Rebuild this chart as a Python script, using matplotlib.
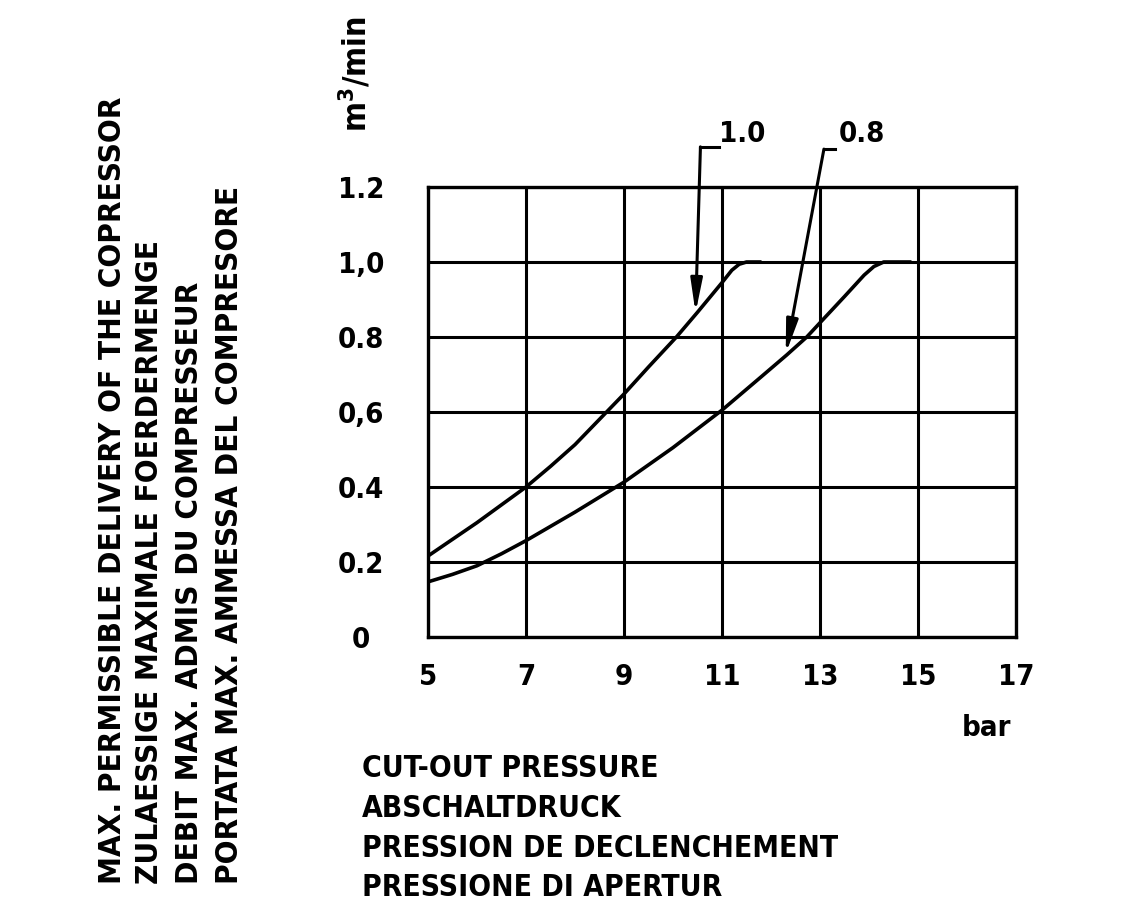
import matplotlib
matplotlib.use("Agg")
import matplotlib.pyplot as plt

# delivery curves (bar -> m3/min)
p10_x = [5, 6, 7, 7.5, 8, 8.6, 9, 9.5, 10.07, 10.5, 11, 11.2, 11.35, 11.5, 11.77]
p10_y = [0.216, 0.305, 0.40, 0.455, 0.513, 0.594, 0.648, 0.72, 0.80, 0.866, 0.945, 0.978, 0.994, 1.0, 1.0]

p08_x = [5, 5.5, 6, 6.5, 7, 8, 9, 10, 11, 11.81, 12.32, 12.73, 13, 13.5, 13.9, 14.1, 14.3, 14.83]
p08_y = [0.147, 0.167, 0.19, 0.222, 0.257, 0.333, 0.413, 0.505, 0.605, 0.695, 0.752, 0.80, 0.838, 0.908, 0.965, 0.988, 1.0, 1.0]

x_ticks = [5, 7, 9, 11, 13, 15, 17]
y_ticks = [0, 0.2, 0.4, 0.6, 0.8, 1.0, 1.2]
y_ticklabels = ["0", "0.2", "0.4", "0,6", "0.8", "1,0", "1.2"]

ylabel_lines = ["MAX. PERMISSIBLE DELIVERY OF THE COPRESSOR",
                "ZULAESSIGE MAXIMALE FOERDERMENGE",
                "DEBIT MAX. ADMIS DU COMPRESSEUR",
                "PORTATA MAX. AMMESSA DEL COMPRESORE"]
xlabel_lines = ["CUT-OUT PRESSURE",
                "ABSCHALTDRUCK",
                "PRESSION DE DECLENCHEMENT",
                "PRESSIONE DI APERTUR"]

plt.rcParams['font.family'] = ['DejaVu Sans']
plt.rcParams['font.stretch'] = 'condensed'
plt.rcParams['font.weight'] = 'bold'
fs = 21

W, H = 1125, 922
fig = plt.figure(figsize=(W / 100, H / 100), dpi=100)
ax = fig.add_axes([428 / W, 1 - 637 / H, 588 / W, 450 / H])

ax.plot(p10_x, p10_y, color='k', lw=2.6, solid_joinstyle='round')
ax.plot(p08_x, p08_y, color='k', lw=2.6, solid_joinstyle='round')

ax.set_xlim(5, 17)
ax.set_ylim(0, 1.2)
ax.set_xticks(x_ticks)
ax.set_yticks(y_ticks)
ax.set_yticklabels(y_ticklabels)
ax.grid(True, color='k', lw=2.2)
ax.set_axisbelow(True)
for s in ax.spines.values():
    s.set_linewidth(2.4)
ax.tick_params(length=0, labelsize=fs)
ax.tick_params(axis='x', pad=19)
ax.tick_params(axis='y', pad=48)
for lab in ax.get_yticklabels():
    lab.set_ha('center')

# leader lines with arrows
arrow = dict(arrowstyle='-|>,head_length=2.0,head_width=0.35',
             color='k', lw=2.2, shrinkA=0, shrinkB=0)
ax.plot([10.56, 10.93], [1.307, 1.307], color='k', lw=2.2, clip_on=False)
ax.annotate("", xy=(10.46, 0.864), xytext=(10.56, 1.307), annotation_clip=False,
            arrowprops=arrow)
ax.text(11.42, 1.32, "1.0", ha='center', va='baseline', fontsize=fs)

ax.plot([13.08, 13.31], [1.301, 1.301], color='k', lw=2.2, clip_on=False)
ax.annotate("", xy=(12.30, 0.755), xytext=(13.08, 1.301), annotation_clip=False,
            arrowprops=arrow)
ax.text(13.86, 1.32, "0.8", ha='center', va='baseline', fontsize=fs)

# unit labels
fig.text(356 / W, 1 - 132 / H, "m$^3$/min", rotation=90, ha='center', va='bottom', fontsize=23)
fig.text(986 / W, 1 - 728 / H, "bar", ha='center', va='center', fontsize=fs)

# y axis description, rotated lines
for xc, line in zip([113, 150, 190, 230], ylabel_lines):
    fig.text(xc / W, 1 - 884 / H, line, rotation=90, ha='center', va='bottom', fontsize=22.5)

# x axis description
for yb, line in zip([777, 817, 857, 896], xlabel_lines):
    fig.text(362 / W, 1 - yb / H, line, ha='left', va='baseline', fontsize=21.5)

fig.savefig("out.png", dpi=100, facecolor='white')
